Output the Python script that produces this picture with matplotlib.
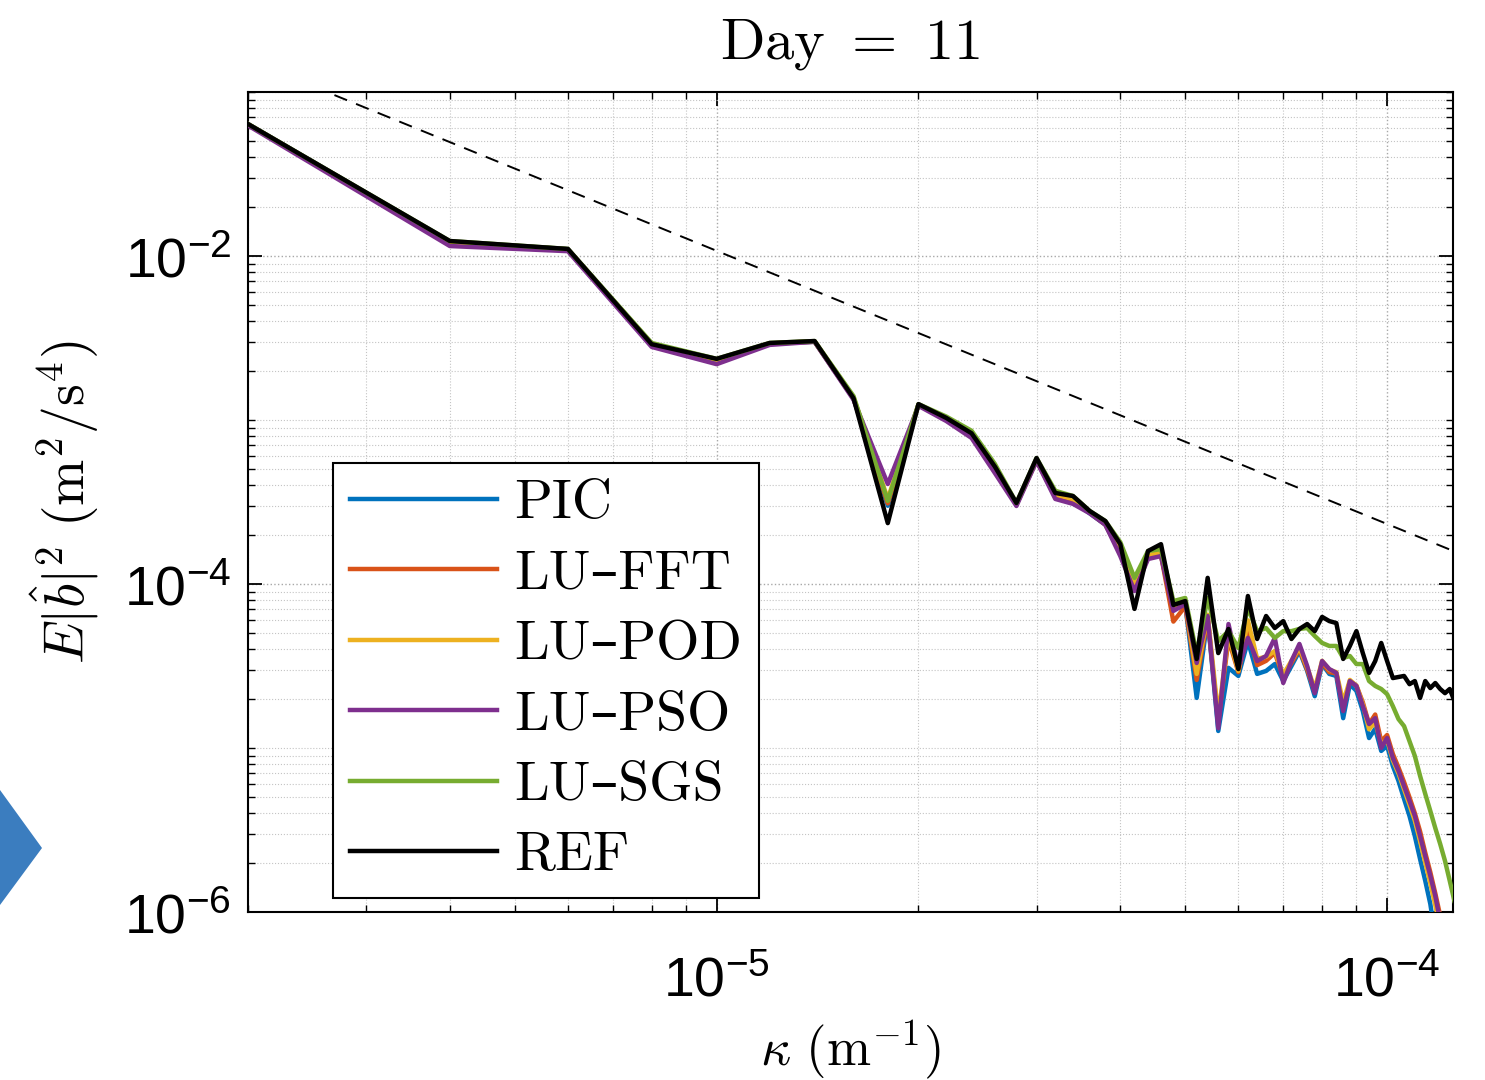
import numpy as np
import matplotlib
matplotlib.use('Agg')
import matplotlib.pyplot as plt
from matplotlib.ticker import LogLocator, NullFormatter
from matplotlib.patches import Polygon

# tick labels in a Helvetica-like face, axis labels in Computer Modern
plt.rcParams['mathtext.fontset'] = 'custom'
plt.rcParams['mathtext.rm'] = 'Liberation Sans'
plt.rcParams['mathtext.it'] = 'Liberation Sans:italic'
plt.rcParams['mathtext.bf'] = 'Liberation Sans:bold'

# wavenumbers (m^-1), modes 1..63
kappa = np.arange(1, 64) * 2.0e-6

ref = [0.0638, 0.01234, 0.01104, 2.90e-3, 2.36e-3, 2.95e-3, 3.03e-3, 1.36e-3, 2.35e-4, 1.25e-3,
       1.03e-3, 8.3e-4, 5.2e-4, 3.12e-4, 5.86e-4, 3.59e-4, 3.44e-4, 2.79e-4, 2.42e-4, 1.75e-4,
       7.05e-5, 1.59e-4, 1.75e-4, 7.45e-5, 7.87e-5, 3.49e-5, 1.09e-4, 3.79e-5, 5.32e-5, 3.03e-5,
       8.45e-5, 4.62e-5, 6.38e-5, 5.39e-5, 5.94e-5, 4.62e-5, 5.32e-5, 5.70e-5, 5.16e-5, 6.30e-5,
       5.94e-5, 5.78e-5, 3.49e-5, 4.19e-5, 5.16e-5, 3.79e-5, 2.87e-5, 3.39e-5, 4.37e-5, 3.39e-5,
       2.67e-5, 2.71e-5, 2.75e-5, 2.45e-5, 2.56e-5, 2.02e-5, 2.56e-5, 2.32e-5, 2.49e-5, 2.29e-5,
       2.16e-5, 2.29e-5, 1.94e-5]

pic = [0.0638, 0.0122, 0.0110, 2.88e-3, 2.33e-3, 2.92e-3, 3.0e-3, 1.36e-3, 3.0e-4, 1.24e-3,
       1.0e-3, 8.0e-4, 5.0e-4, 3.05e-4, 5.7e-4, 3.45e-4, 3.2e-4, 2.7e-4, 2.3e-4, 1.55e-4,
       9.5e-5, 1.45e-4, 1.5e-4, 7.0e-5, 7.5e-5, 2.02e-5, 6.21e-5, 1.27e-5, 3.08e-5, 2.75e-5,
       4.49e-5, 2.83e-5, 2.95e-5, 3.25e-5, 2.56e-5, 3.16e-5, 3.90e-5, 2.95e-5, 2.07e-5, 3.25e-5,
       2.83e-5, 2.75e-5, 1.52e-5, 2.45e-5, 2.23e-5, 1.68e-5, 1.15e-5, 1.31e-5, 9.6e-6, 1.03e-5,
       7.76e-6, 6.29e-6, 4.89e-6, 3.85e-6, 2.90e-6, 2.10e-6, 1.55e-6, 1.12e-6, 7.1e-7, 5.0e-7,
       3.5e-7, 2.5e-7, 1.8e-7]

lu_fft = [0.0637, 0.0122, 0.0110, 2.9e-3, 2.34e-3, 2.93e-3, 3.0e-3, 1.35e-3, 3.1e-4, 1.24e-3,
          1.0e-3, 7.9e-4, 4.9e-4, 3.05e-4, 5.65e-4, 3.4e-4, 3.25e-4, 2.72e-4, 2.3e-4, 1.55e-4,
          9.3e-5, 1.45e-4, 1.5e-4, 5.9e-5, 7.3e-5, 2.6e-5, 6.2e-5, 1.45e-5, 4.6e-5, 2.9e-5,
          5.2e-5, 3.2e-5, 3.4e-5, 3.8e-5, 2.7e-5, 3.3e-5, 4.0e-5, 3.0e-5, 2.2e-5, 3.3e-5,
          2.9e-5, 2.85e-5, 1.75e-5, 2.55e-5, 2.4e-5, 1.9e-5, 1.4e-5, 1.6e-5, 1.1e-5, 1.2e-5,
          9.2e-6, 7.6e-6, 6.2e-6, 5.0e-6, 4.0e-6, 3.1e-6, 2.3e-6, 1.75e-6, 1.3e-6, 9.5e-7,
          6.5e-7, 4.5e-7, 3.2e-7]

lu_pod = [0.0636, 0.0121, 0.0109, 2.92e-3, 2.33e-3, 2.93e-3, 3.02e-3, 1.38e-3, 3.3e-4, 1.24e-3,
          1.02e-3, 8.1e-4, 5.0e-4, 3.08e-4, 5.75e-4, 3.5e-4, 3.3e-4, 2.75e-4, 2.35e-4, 1.6e-4,
          9.8e-5, 1.5e-4, 1.55e-4, 7.2e-5, 7.7e-5, 2.83e-5, 6.5e-5, 1.57e-5, 4.9e-5, 2.95e-5,
          6.0e-5, 3.5e-5, 3.6e-5, 3.9e-5, 2.8e-5, 3.4e-5, 4.1e-5, 3.1e-5, 2.3e-5, 3.4e-5,
          3.0e-5, 2.9e-5, 1.9e-5, 2.6e-5, 2.4e-5, 1.85e-5, 1.3e-5, 1.45e-5, 1.05e-5, 1.12e-5,
          8.4e-6, 7.0e-6, 5.6e-6, 4.5e-6, 3.6e-6, 2.7e-6, 2.0e-6, 1.5e-6, 1.1e-6, 8.0e-7,
          5.5e-7, 3.8e-7, 2.7e-7]

lu_pso = [0.0625, 0.0115, 0.0107, 2.79e-3, 2.19e-3, 2.87e-3, 3.0e-3, 1.33e-3, 4.07e-4, 1.22e-3,
          9.86e-4, 7.77e-4, 4.75e-4, 2.99e-4, 5.62e-4, 3.30e-4, 3.08e-4, 2.70e-4, 2.30e-4, 1.48e-4,
          9.06e-5, 1.42e-4, 1.48e-4, 6.85e-5, 7.55e-5, 3.30e-5, 6.38e-5, 1.32e-5, 5.70e-5, 3.08e-5,
          4.69e-5, 3.39e-5, 3.64e-5, 4.69e-5, 2.49e-5, 3.39e-5, 4.31e-5, 3.16e-5, 2.16e-5, 3.39e-5,
          3.03e-5, 2.87e-5, 1.68e-5, 2.56e-5, 2.39e-5, 1.80e-5, 1.40e-5, 1.52e-5, 1.00e-5, 1.15e-5,
          8.69e-6, 7.24e-6, 5.86e-6, 4.75e-6, 3.85e-6, 2.90e-6, 2.19e-6, 1.66e-6, 1.25e-6, 8.8e-7,
          5.8e-7, 4.0e-7, 3.0e-7]

lu_sgs = [0.0638, 0.01234, 0.01104, 2.95e-3, 2.36e-3, 2.95e-3, 3.03e-3, 1.40e-3, 3.21e-4, 1.25e-3,
          1.05e-3, 8.6e-4, 5.4e-4, 3.12e-4, 5.86e-4, 3.70e-4, 3.44e-4, 2.79e-4, 2.42e-4, 1.80e-4,
          1.09e-4, 1.59e-4, 1.63e-4, 7.87e-5, 8.22e-5, 3.74e-5, 8.22e-5, 4.49e-5, 5.16e-5, 4.07e-5,
          7.14e-5, 5.16e-5, 5.39e-5, 4.69e-5, 5.16e-5, 5.16e-5, 5.32e-5, 5.39e-5, 4.82e-5, 4.37e-5,
          4.19e-5, 4.19e-5, 3.54e-5, 3.64e-5, 3.25e-5, 3.25e-5, 2.56e-5, 2.39e-5, 2.29e-5, 2.13e-5,
          1.80e-5, 1.50e-5, 1.36e-5, 1.10e-5, 8.94e-6, 6.75e-6, 5.25e-6, 4.13e-6, 3.25e-6, 2.60e-6,
          2.05e-6, 1.55e-6, 1.17e-6]

# k^-5/3 guide line
slope_k = [2.0e-6, 1.3e-4]
slope_E = [0.157, 1.5e-4]

names = ['PIC', 'LU\u2013FFT', 'LU\u2013POD', 'LU\u2013PSO', 'LU\u2013SGS', 'REF']
series = [pic, lu_fft, lu_pod, lu_pso, lu_sgs, ref]
colors = ['#0072BD', '#D95319', '#EDB120', '#7E2F8E', '#77AC30', 'black']

fig = plt.figure(figsize=(14.85, 10.8), dpi=100)
ax = fig.add_axes([248/1485, 168/1080, 1205/1485, 820/1080])

for vals, c, lab in zip(series, colors, names):
    ax.plot(kappa, vals, color=c, lw=3.2, label=lab, zorder=3)

ax.plot(slope_k, slope_E, color='k', ls='--', lw=1.4, dashes=(7, 5), zorder=2)

ax.set_xscale('log')
ax.set_yscale('log')
ax.set_xlim(2.0e-6, 1.254e-4)
ax.set_ylim(1e-6, 1e-1)

ax.set_xticks([1e-5, 1e-4], labels=[r'$10^{-5}$', r'$10^{-4}$'])
ax.set_yticks([1e-6, 1e-4, 1e-2], labels=[r'$10^{-6}$', r'$10^{-4}$', r'$10^{-2}$'])
ax.xaxis.set_minor_locator(LogLocator(base=10, subs=np.arange(2, 10), numticks=20))
ax.yaxis.set_minor_locator(LogLocator(base=10, subs=np.arange(1, 10), numticks=20))
ax.xaxis.set_minor_formatter(NullFormatter())
ax.yaxis.set_minor_formatter(NullFormatter())

ax.tick_params(which='both', direction='in', top=True, right=True, labelsize=40)
ax.tick_params(which='major', length=10, width=1.3)
ax.tick_params(which='minor', length=5, width=1.0)
ax.tick_params(axis='x', pad=30)
ax.tick_params(axis='y', pad=12)

ax.grid(True, which='major', ls=':', color='#a8a8a8', lw=1.0)
ax.grid(True, which='minor', ls=':', color='#c4c4c4', lw=0.8)
ax.set_axisbelow(True)
for s in ax.spines.values():
    s.set_linewidth(1.5)

ax.set_title(r'$\mathrm{Day}\ =\ 11$', fontsize=42, math_fontfamily='cm', pad=24)
ax.set_xlabel(r'$\kappa\ (\mathrm{m}^{-1})$', fontsize=38, math_fontfamily='cm')
ax.set_ylabel(r'$E|\hat{b}|^2\ (\mathrm{m}^2/\mathrm{s}^4)$', fontsize=40, math_fontfamily='cm')
ax.xaxis.set_label_coords(0.5, -0.13)
ax.yaxis.set_label_coords(-0.122, 0.5)

leg = ax.legend(loc='lower left', bbox_to_anchor=(0.0705, 0.017),
                prop={'family': ['cmr10', 'DejaVu Serif'], 'size': 40},
                frameon=True, fancybox=False, edgecolor='k', framealpha=1,
                borderaxespad=0, handlelength=2.66, handletextpad=0.3,
                labelspacing=0.37, borderpad=0.3)
leg.get_frame().set_linewidth(1.5)
for line in leg.get_lines():
    line.set_linewidth(3.2)

# slide arrow at the left edge
fig.patches.append(Polygon([[0, 1 - 790/1080], [42/1485, 1 - 848/1080], [0, 1 - 905/1080]],
                           closed=True, transform=fig.transFigure,
                           facecolor='#3b7dbf', edgecolor='none'))

fig.savefig('out.png', dpi=100)
